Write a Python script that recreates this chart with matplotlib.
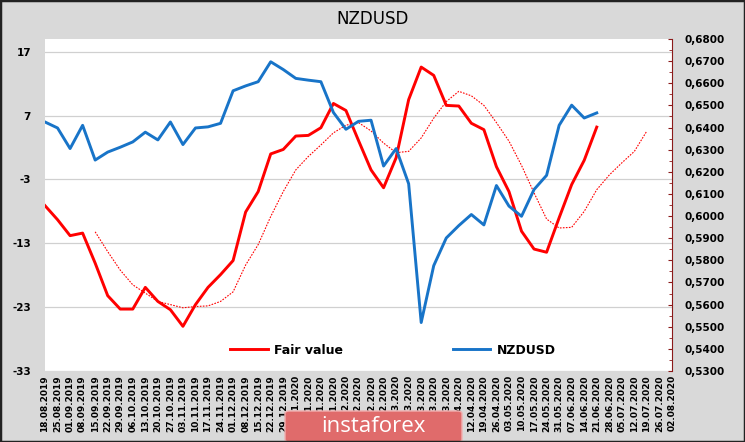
import matplotlib
matplotlib.use("Agg")
import matplotlib.pyplot as plt
from matplotlib.patches import FancyBboxPatch, Rectangle
from matplotlib.lines import Line2D
import pandas as pd

# weekly dates shown on the x axis
dates = pd.date_range("2019-08-18", "2020-08-02", freq="7D")
date_labels = [d.strftime("%d.%m.%Y") for d in dates]

# Fair value (left axis)
fair_value = [-7.1, -9.3, -11.8, -11.4, -16.1, -21.2, -23.3, -23.3, -19.9, -22.1,
              -23.4, -26.0, -22.6, -19.9, -17.9, -15.7, -8.1, -4.9, 1.0, 1.7,
              3.8, 3.9, 5.1, 8.9, 7.8, 3.1, -1.5, -4.3, 0.4, 9.5,
              14.6, 13.3, 8.6, 8.5, 5.8, 4.8, -1.0, -4.9, -11.1, -13.9,
              -14.4, -9.0, -3.8, 0.0, 5.2]

# dotted red curve (starts at 15.09.2019, left axis)
fair_avg_start = 4
fair_avg = [-11.2, -14.3, -17.2, -19.5, -20.8, -22.1, -22.6, -23.1, -22.9, -22.8,
            -22.1, -20.6, -16.4, -13.2, -8.8, -4.9, -1.5, 0.6, 2.4, 4.3,
            5.5, 5.9, 4.6, 2.7, 1.2, 1.4, 3.5, 6.6, 9.2, 10.8,
            10.1, 8.6, 5.9, 3.0, -0.8, -5.1, -9.2, -10.6, -10.5, -8.0,
            -4.6, -2.3, -0.4, 1.4, 4.6]

# NZDUSD (right axis)
nzdusd = [0.6425, 0.6398, 0.6305, 0.6410, 0.6253, 0.6289, 0.6311, 0.6335, 0.6379, 0.6344,
          0.6425, 0.6323, 0.6398, 0.6403, 0.6419, 0.6566, 0.6588, 0.6607, 0.6697, 0.6662,
          0.6622, 0.6614, 0.6607, 0.6468, 0.6392, 0.6428, 0.6433, 0.6226, 0.6305, 0.6146,
          0.5519, 0.5776, 0.5901, 0.5957, 0.6007, 0.5960, 0.6138, 0.6045, 0.5999, 0.6120,
          0.6184, 0.6410, 0.6501, 0.6443, 0.6466]

left_ticks = [-33, -23, -13, -3, 7, 17]
right_ticks = [0.53 + 0.01 * k for k in range(16)]

fig = plt.figure(figsize=(7.45, 4.42), dpi=100, facecolor="#d9d9d9")
ax = fig.add_axes([0.0604, 0.1606, 0.8416, 0.7512])
ax.set_facecolor("white")
ax2 = ax.twinx()

x_fair = list(range(len(fair_value)))
x_avg = [fair_avg_start + k for k in range(len(fair_avg))]
x_nzd = list(range(len(nzdusd)))

ax.plot(x_fair, fair_value, color="#ff0000", lw=2.1, zorder=3)
ax.plot(x_avg, fair_avg, color="#ff0000", lw=0.8, ls=(0, (1.5, 1.2)), zorder=3)
ax2.plot(x_nzd, nzdusd, color="#1874c8", lw=2.1, zorder=3)

ax.set_xlim(0, len(date_labels) - 1)
ax.set_ylim(-33, 19)
ax.set_yticks(left_ticks)
ax.set_yticklabels([str(t) for t in left_ticks], fontsize=7.5, fontweight="bold")
ax.grid(axis="y", color="#d0d0d0", lw=0.9)
ax.set_axisbelow(True)
ax.tick_params(axis="y", length=0, pad=10)
ax.set_xticks(range(len(date_labels)))
ax.set_xticklabels(date_labels, rotation=90, fontsize=6.5, fontweight="bold")
ax.tick_params(axis="x", length=0, pad=3)

ax2.set_ylim(0.53, 0.68)
ax2.set_yticks(right_ticks)
ax2.set_yticklabels([("%.4f" % t).replace(".", ",") for t in right_ticks],
                    fontsize=7.5, fontweight="bold")
ax2.set_yticks([0.535 + 0.01 * k for k in range(15)], minor=True)
ax2.tick_params(axis="y", which="major", direction="in", length=3, color="#8b1a1a", pad=9)
ax2.tick_params(axis="y", which="minor", direction="in", length=2, color="#8b1a1a")

for sp in ["top", "left", "bottom"]:
    ax.spines[sp].set_visible(False)
    ax2.spines[sp].set_visible(False)
ax.spines["right"].set_visible(False)
ax2.spines["right"].set_color("#8b1a1a")

handles = [Line2D([], [], color="#ff0000", lw=2.1),
           Line2D([], [], color="#1874c8", lw=2.1)]
leg = ax.legend(handles, ["Fair value", "NZDUSD"], ncol=2, loc="center",
                bbox_to_anchor=(0.555, 0.063), frameon=False, columnspacing=8.8,
                handlelength=3.0, handletextpad=0.5,
                prop={"weight": "bold", "size": 9})

fig.text(0.5, 0.957, "NZDUSD", ha="center", va="center", fontsize=12)

# watermark box
box = FancyBboxPatch((285 / 745, 0.0), 177 / 745, 31 / 442,
                     boxstyle="round,pad=0,rounding_size=0.006",
                     transform=fig.transFigure, facecolor="#e06b6b",
                     edgecolor="#f0b0b0", lw=1, zorder=10)
fig.patches.append(box)
fig.text(373 / 745, 1 - 427 / 442, "instaforex", ha="center", va="center",
         color="white", fontsize=16, family="Open Sans", zorder=11)

# outer frame
fig.patches.append(Rectangle((0, 0), 1, 1, transform=fig.transFigure,
                             fill=False, edgecolor="#222222", lw=2.5, zorder=12))

fig.savefig("out.png", dpi=100, facecolor=fig.get_facecolor())
